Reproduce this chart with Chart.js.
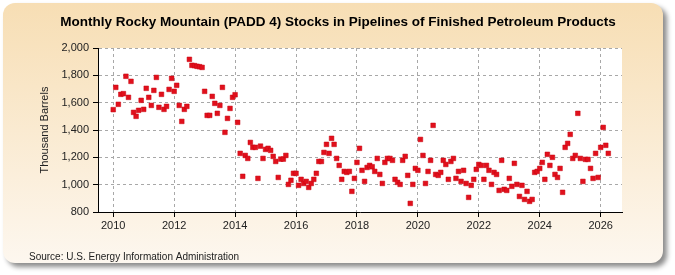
<!DOCTYPE html>
<html>
<head>
<meta charset="utf-8">
<script src="https://cdn.jsdelivr.net/npm/chart.js@4.4.1/dist/chart.umd.min.js"></script>
<style>
  html, body { margin: 0; padding: 0; background: #ffffff; }
  #wrap { width: 675px; height: 275px; position: relative; }
</style>
</head>
<body>
<div id="wrap"><canvas id="stocksChart" width="675" height="275"></canvas></div>
<script>
const startYear = 2010;
const xTicks = [2010, 2012, 2014, 2016, 2018, 2020, 2022, 2024, 2026];
const yTicks = [800, 1000, 1200, 1400, 1600, 1800, 2000];

// monthly stocks, thousand barrels, Jan 2010 onward
const stocks2010 = [1549, 1712, 1588, 1661, 1666, 1793, 1639, 1756, 1529, 1500, 1544, 1617];
const stocks2011 = [1551, 1705, 1639, 1580, 1690, 1785, 1566, 1661, 1551, 1573, 1697, 1778];
const stocks2012 = [1683, 1727, 1580, 1463, 1551, 1573, 1917, 1873, 1871, 1866, 1863, 1858];
const stocks2013 = [1683, 1507, 1507, 1646, 1595, 1522, 1580, 1712, 1383, 1485, 1558, 1639];
const stocks2014 = [1658, 1456, 1229, 1061, 1214, 1192, 1309, 1273, 1273, 1046, 1282, 1192];
const stocks2015 = [1258, 1266, 1251, 1207, 1170, 1053, 1187, 1187, 1214, 1002, 1032, 1083];
const stocks2016 = [1083, 995, 1039, 1009, 1024, 980, 1009, 1039, 1083, 1170, 1170, 1236];
const stocks2017 = [1295, 1229, 1339, 1295, 1192, 1141, 1039, 1097, 1090, 1097, 951, 1046];
const stocks2018 = [1163, 1266, 1105, 1024, 1126, 1141, 1131, 1097, 1192, 1075, 1009, 1163];
const stocks2019 = [1192, 1192, 1178, 1039, 1017, 1002, 1178, 1207, 1068, 863, 1002, 1119];
const stocks2020 = [1105, 1331, 1214, 1009, 1097, 1178, 1434, 1075, 1068, 1090, 1178, 1148];
const stocks2021 = [1039, 1170, 1192, 1046, 1097, 1024, 1105, 1009, 907, 995, 1039, 1112];
const stocks2022 = [1148, 1141, 1039, 1141, 1105, 1002, 1090, 1075, 958, 1178, 966, 958];
const stocks2023 = [1046, 988, 1156, 1002, 914, 995, 892, 951, 878, 892, 1090, 1097];
const stocks2024 = [1119, 1163, 1039, 1222, 1141, 1200, 1075, 1053, 1119, 944, 1273, 1302];
const stocks2025 = [1368, 1192, 1214, 1522, 1192, 1024, 1185, 1185, 1119, 1046, 1229, 1053];
const stocks2026 = [1273, 1419, 1288, 1229];

const stocks = [].concat(stocks2010, stocks2011, stocks2012, stocks2013, stocks2014,
  stocks2015, stocks2016, stocks2017, stocks2018, stocks2019, stocks2020, stocks2021,
  stocks2022, stocks2023, stocks2024, stocks2025, stocks2026);

const points = stocks.map((v, i) => ({ x: startYear + i / 12, y: v }));

const FONT = "'Liberation Sans', Arial, sans-serif";

// beige rounded panel, white plot area, title and source line
const framePlugin = {
  id: 'frame',
  beforeDraw(chart) {
    const ctx = chart.ctx;
    const area = chart.chartArea;
    ctx.save();
    ctx.fillStyle = '#ffffff';
    ctx.fillRect(0, 0, chart.width, chart.height);

    const x = 3, y = 3, w = 660, h = 260, r = 12;
    const grad = ctx.createLinearGradient(0, y, 0, y + h);
    grad.addColorStop(0, '#f7deb4');
    grad.addColorStop(1, '#fdf7ef');
    ctx.shadowColor = 'rgba(0,0,0,0.45)';
    ctx.shadowBlur = 5;
    ctx.shadowOffsetX = 4;
    ctx.shadowOffsetY = 4;
    ctx.beginPath();
    ctx.roundRect(x, y, w, h, r);
    ctx.fillStyle = grad;
    ctx.fill();
    ctx.shadowColor = 'transparent';

    ctx.fillStyle = '#ffffff';
    ctx.fillRect(area.left, area.top, area.right - area.left, area.bottom - area.top);

    ctx.fillStyle = '#000000';
    ctx.font = 'bold 13.5px ' + FONT;
    ctx.textAlign = 'center';
    ctx.textBaseline = 'middle';
    ctx.fillText('Monthly Rocky Mountain (PADD 4) Stocks in Pipelines of Finished Petroleum Products', 338, 22);

    ctx.fillStyle = '#222222';
    ctx.font = '10px ' + FONT;
    ctx.textAlign = 'left';
    ctx.fillText('Source: U.S. Energy Information Administration', 29, 257);
    ctx.restore();
  }
};

new Chart(document.getElementById('stocksChart'), {
  type: 'scatter',
  data: {
    datasets: [{
      label: 'Stocks',
      data: points,
      backgroundColor: '#e1101c',
      borderColor: '#c8000f',
      borderWidth: 0.5,
      pointStyle: 'rect',
      pointRadius: 3.3,
      pointHoverRadius: 3.3
    }]
  },
  options: {
    responsive: false,
    animation: false,
    layout: { padding: { left: 34, right: 53, top: 48, bottom: 20 } },
    plugins: {
      legend: { display: false },
      title: { display: false },
      tooltip: { enabled: false }
    },
    scales: {
      x: {
        type: 'linear',
        min: 2009.5,
        max: 2026.7,
        afterBuildTicks: (axis) => { axis.ticks = xTicks.map(v => ({ value: v })); },
        afterFit: (axis) => { axis.height = 43; },
        ticks: {
          color: '#222222',
          font: { family: FONT, size: 11 },
          padding: 2,
          maxRotation: 0,
          callback: (v) => String(v)
        },
        grid: {
          color: '#a8a8a8',
          tickColor: '#000000',
          tickLength: 5
        },
        border: { color: '#000000', width: 1, dash: [3, 3] }
      },
      y: {
        min: 800,
        max: 2000,
        afterBuildTicks: (axis) => { axis.ticks = yTicks.map(v => ({ value: v })); },
        afterFit: (axis) => { axis.width = 98 - 34; },
        title: {
          display: true,
          text: 'Thousand Barrels',
          color: '#222222',
          font: { family: FONT, size: 11 },
          padding: { top: 4, bottom: 4 }
        },
        ticks: {
          color: '#222222',
          font: { family: FONT, size: 11 },
          padding: 4,
          callback: (v) => v.toLocaleString('en-US')
        },
        grid: {
          color: '#a8a8a8',
          tickColor: '#000000',
          tickLength: 5
        },
        border: { color: '#000000', width: 1, dash: [3, 3] }
      }
    }
  },
  plugins: [framePlugin]
});
</script>
</body>
</html>
